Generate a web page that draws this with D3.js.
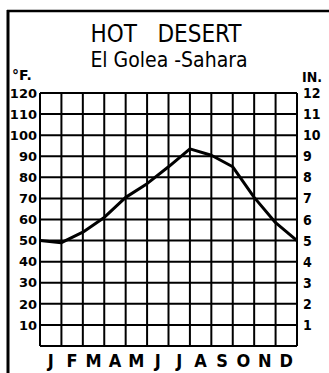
<!DOCTYPE html>
<html>
<head>
<meta charset="utf-8">
<script src="https://cdn.jsdelivr.net/npm/d3@7/dist/d3.min.js"></script>
<style>
  html, body { margin: 0; padding: 0; background: #fff; }
  svg { display: block; }
</style>
</head>
<body>
<svg id="chart" width="329" height="373"></svg>
<script>
// Climograph: El Golea (Sahara), monthly temperature curve
const months = ["J", "F", "M", "A", "M", "J", "J", "A", "S", "O", "N", "D"];
// Temperature (°F) read at each month boundary, Jan start .. Dec end
const tempF = [50, 49, 54, 61, 70.5, 77, 85, 93.5, 90.5, 85, 70.5, 58.5, 50];
const tempTicks = [10, 20, 30, 40, 50, 60, 70, 80, 90, 100, 110, 120];
const rainTicks = [1, 2, 3, 4, 5, 6, 7, 8, 9, 10, 11, 12];

const svg = d3.select("#chart");
const plotLeft = 40, plotRight = 297, plotTop = 93, plotBottom = 346;

const xBand = d3.scaleBand().domain(d3.range(months.length)).range([plotLeft, plotRight]).padding(0);
const xEdge = d3.scaleLinear().domain([0, months.length]).range([plotLeft, plotRight]);
const yT = d3.scaleLinear().domain([0, 120]).range([plotBottom, plotTop]);
const yR = d3.scaleLinear().domain([0, 12]).range([plotBottom, plotTop]);

// Outer frame (left and top rules)
svg.append("line").attr("x1", 8).attr("x2", 8).attr("y1", 10).attr("y2", 373)
  .attr("stroke", "#000").attr("stroke-width", 3);
svg.append("line").attr("x1", 7).attr("x2", 329).attr("y1", 11).attr("y2", 11)
  .attr("stroke", "#000").attr("stroke-width", 2.5);

// Titles
svg.append("text").attr("x", 166).attr("y", 42).attr("text-anchor", "middle")
  .attr("font-family", "'DejaVu Sans Condensed', 'DejaVu Sans', sans-serif")
  .attr("font-stretch", "condensed").attr("font-size", 24).attr("fill", "#000")
  .text("HOT\u00a0\u00a0\u00a0DESERT");
svg.append("text").attr("x", 169).attr("y", 67).attr("text-anchor", "middle")
  .attr("font-family", "'DejaVu Sans Condensed', 'DejaVu Sans', sans-serif")
  .attr("font-stretch", "condensed").attr("font-size", 21).attr("fill", "#000")
  .text("El Golea -Sahara");

// Grid
const grid = svg.append("g").attr("stroke", "#000").attr("stroke-width", 2);
grid.selectAll("line.h").data(d3.range(0, 121, 10)).join("line")
  .attr("class", "h")
  .attr("x1", plotLeft).attr("x2", plotRight)
  .attr("y1", d => yT(d)).attr("y2", d => yT(d));
grid.selectAll("line.v").data(d3.range(0, months.length + 1)).join("line")
  .attr("class", "v")
  .attr("y1", plotTop).attr("y2", plotBottom)
  .attr("x1", d => xEdge(d)).attr("x2", d => xEdge(d));

// Axis unit labels
svg.append("text").attr("x", 12).attr("y", 80)
  .attr("font-family", "'DejaVu Sans', sans-serif").attr("font-weight", "bold")
  .attr("font-size", 14).text("°F.");
svg.append("text").attr("x", 302).attr("y", 82)
  .attr("font-family", "'Liberation Sans Narrow', 'DejaVu Sans Condensed', sans-serif")
  .attr("font-weight", "bold").attr("font-size", 14).text("IN.");

// Temperature ticks (left)
svg.append("g").selectAll("text").data(tempTicks).join("text")
  .attr("x", 37).attr("y", d => yT(d)).attr("dy", "0.36em")
  .attr("text-anchor", "end")
  .attr("font-family", "'DejaVu Sans', sans-serif").attr("font-weight", "bold")
  .attr("font-size", 13).text(d => d);

// Precipitation ticks (right)
svg.append("g").selectAll("text").data(rainTicks).join("text")
  .attr("x", 303).attr("y", d => yR(d)).attr("dy", "0.36em")
  .attr("font-family", "'Liberation Sans Narrow', 'DejaVu Sans Condensed', sans-serif")
  .attr("font-weight", "bold").attr("font-size", 14).text(d => d);

// Month labels
svg.append("g").selectAll("text").data(months).join("text")
  .attr("x", (d, i) => xBand(i) + xBand.bandwidth() / 2).attr("y", 367)
  .attr("text-anchor", "middle")
  .attr("font-family", "'DejaVu Sans Condensed', 'DejaVu Sans', sans-serif")
  .attr("font-stretch", "condensed").attr("font-weight", "bold")
  .attr("font-size", 18).text(d => d);

// Temperature curve
const line = d3.line().x((d, i) => xEdge(i)).y(d => yT(d));
svg.append("path").datum(tempF).attr("d", line)
  .attr("fill", "none").attr("stroke", "#000").attr("stroke-width", 3)
  .attr("stroke-linejoin", "round");
</script>
</body>
</html>
